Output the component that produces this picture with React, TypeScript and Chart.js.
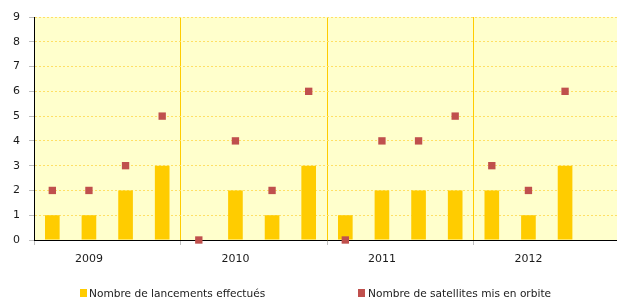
import React, { useEffect, useRef } from "react";
import { Chart, registerables } from "chart.js";

Chart.register(...registerables);

const years = ["2009", "2010", "2011", "2012"];
const quarters = ["T1", "T2", "T3", "T4"];
const categories = years.flatMap((y) => quarters.map((q) => `${q} ${y}`));
const launches = [1, 1, 2, 3, 0, 2, 1, 3, 1, 2, 2, 2, 2, 1, 3, null];
const satellites = [2, 2, 3, 5, 0, 4, 2, 6, 0, 4, 4, 5, 3, 2, 6, null];
const seriesNames = ["Nombre de lancements effectués", "Nombre de satellites mis en orbite"];
const yTicks = [0, 1, 2, 3, 4, 5, 6, 7, 8, 9];

const YELLOW = "#FFCC00";
const RED = "#C0504D";
const FONT = "'DejaVu Sans', Verdana, sans-serif";

const bgPlugin = {
  id: "plotBg",
  beforeDraw(chart: any) {
    const { ctx, chartArea } = chart;
    if (!chartArea) return;
    ctx.save();
    ctx.fillStyle = "#FFFFCC";
    ctx.fillRect(chartArea.left, chartArea.top, chartArea.right - chartArea.left, chartArea.bottom - chartArea.top);
    ctx.restore();
  },
};

export default function App() {
  const ref = useRef<HTMLCanvasElement | null>(null);

  useEffect(() => {
    document.body.style.margin = "0";
    const canvas = ref.current;
    if (!canvas) return;
    const chart = new Chart(canvas, {
      type: "bar",
      data: {
        labels: categories,
        datasets: [
          {
            type: "line",
            label: seriesNames[1],
            data: satellites as any,
            showLine: false,
            pointStyle: "rect",
            pointRadius: 5.2,
            pointHoverRadius: 5.2,
            backgroundColor: RED,
            borderColor: RED,
            pointBorderWidth: 0,
            clip: false as any,
            order: 0,
          } as any,
          {
            type: "bar",
            label: seriesNames[0],
            data: launches as any,
            backgroundColor: YELLOW,
            borderWidth: 0,
            barPercentage: 0.4,
            categoryPercentage: 1,
            order: 1,
          } as any,
        ],
      },
      options: {
        animation: false,
        responsive: false,
        devicePixelRatio: 1,
        layout: { autoPadding: false, padding: { top: 17, left: 0, right: 0, bottom: 0 } },
        plugins: {
          legend: { display: false },
          tooltip: { enabled: false },
        },
        events: [],
        scales: {
          x: {
            type: "category",
            offset: true,
            afterFit: (s: any) => {
              s.height = 60;
              s.paddingLeft = 0;
              s.paddingRight = 0;
            },
            grid: {
              offset: true,
              drawOnChartArea: true,
              lineWidth: 1,
              color: (c: any) =>
                typeof c.index === "number" && c.index > 0 && c.index % 4 === 0 ? YELLOW : "rgba(0,0,0,0)",
              tickColor: (c: any) =>
                typeof c.index === "number" && c.index % 4 === 0 ? "#BFBFBF" : "rgba(0,0,0,0)",
              tickLength: 5,
              tickBorderDash: [],
            },
            border: { color: "#000", width: 1 },
            ticks: {
              autoSkip: false,
              maxRotation: 0,
              minRotation: 0,
              padding: 8,
              color: "#1a1a1a",
              font: { family: FONT, size: 11 },
              callback: (_v: any, i: number) => (i % 4 === 1 ? years[Math.floor(i / 4)] : ""),
            },
          },
          y: {
            min: yTicks[0],
            max: yTicks[yTicks.length - 1],
            afterFit: (s: any) => {
              s.width = 34;
            },
            afterBuildTicks: (s: any) => {
              s.ticks = yTicks.map((v) => ({ value: v }));
            },
            grid: {
              color: "#FFE066",
              lineWidth: 1,
              tickColor: "#BFBFBF",
              tickLength: 5,
              tickBorderDash: [],
            },
            border: { color: "#000", width: 1, dash: [2, 2] },
            ticks: {
              padding: 9,
              color: "#1a1a1a",
              font: { family: FONT, size: 11 },
            },
          },
        },
      },
      plugins: [bgPlugin],
    } as any);
    return () => chart.destroy();
  }, []);

  const legendText: React.CSSProperties = {
    position: "absolute",
    top: 286,
    fontFamily: FONT,
    fontSize: "10.6px",
    lineHeight: "14px",
    color: "#1a1a1a",
    whiteSpace: "nowrap",
  };
  const box = (color: string, left: number): React.CSSProperties => ({
    position: "absolute",
    left,
    top: 289,
    width: 7,
    height: 8,
    background: color,
  });

  return (
    <div style={{ position: "relative", width: 617, height: 300, overflow: "hidden", background: "#fff" }}>
      <canvas ref={ref} width={620} height={300} style={{ width: 620, height: 300, display: "block" }} />
      <div style={box(YELLOW, 80)} />
      <div style={{ ...legendText, left: 89 }}>{seriesNames[0]}</div>
      <div style={box(RED, 358)} />
      <div style={{ ...legendText, left: 368 }}>{seriesNames[1]}</div>
    </div>
  );
}
